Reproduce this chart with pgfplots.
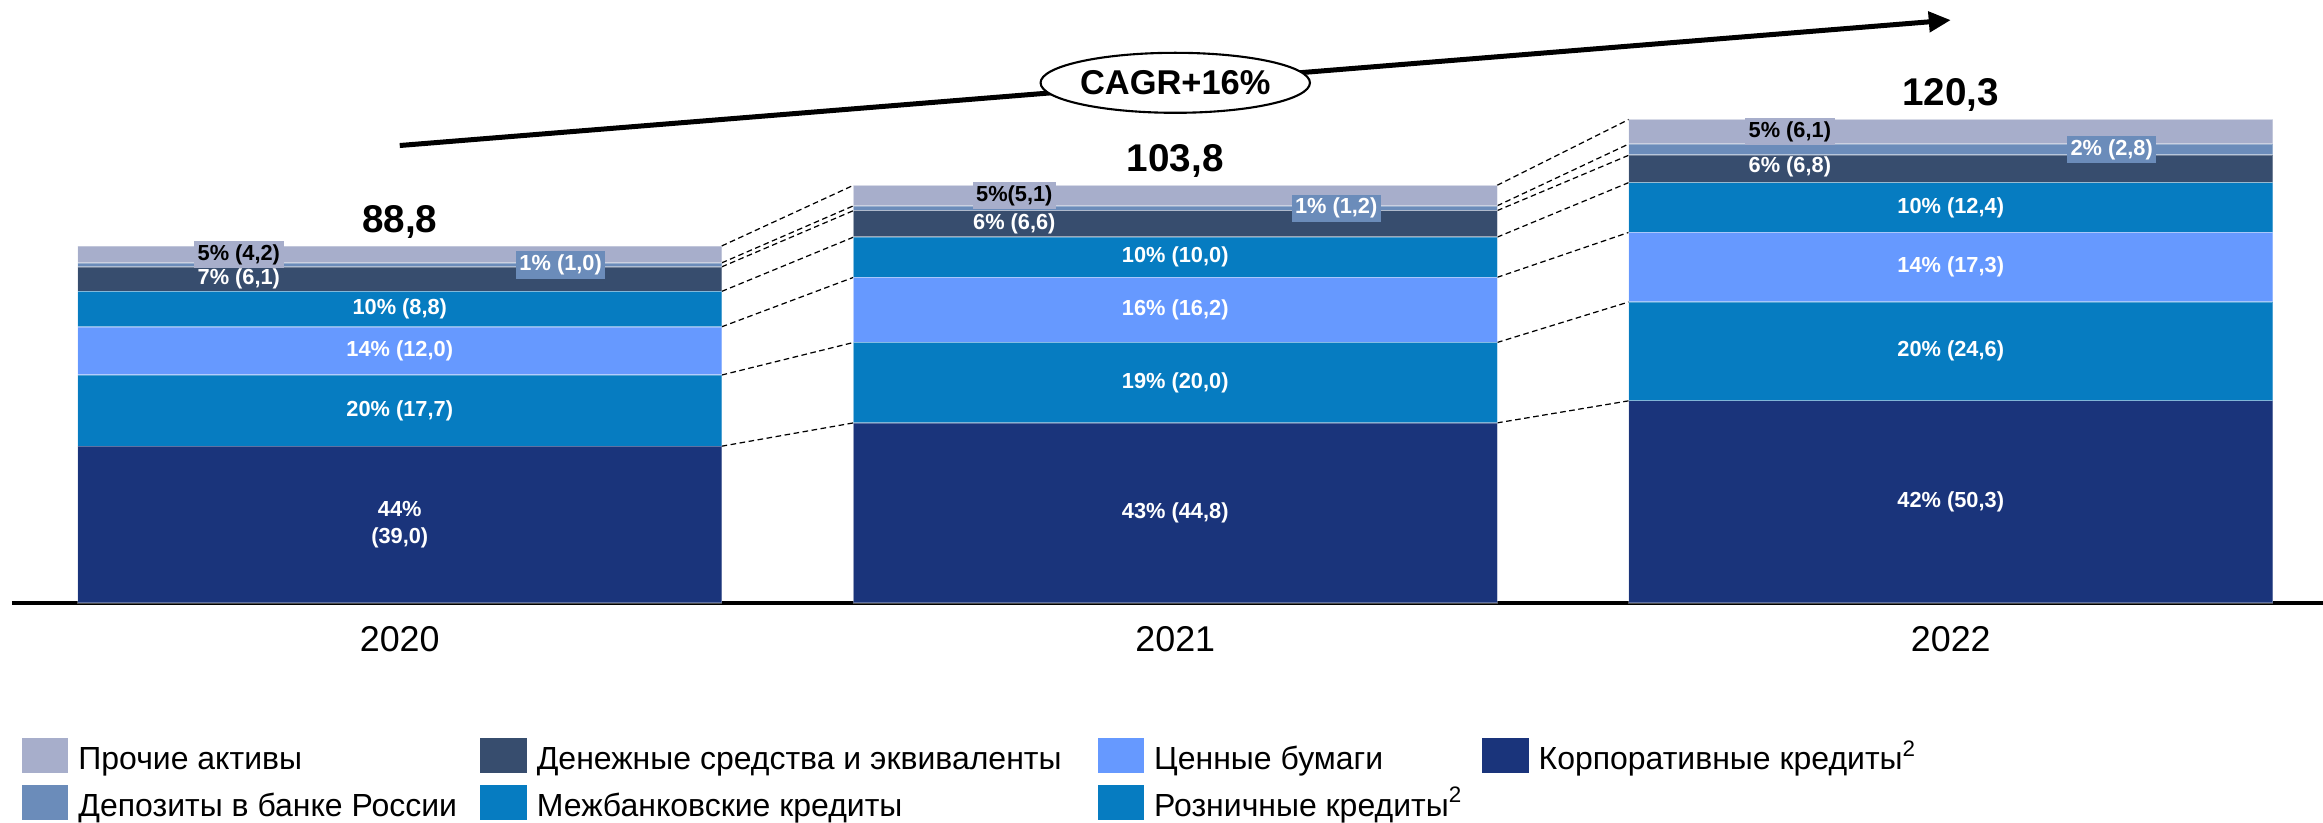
\documentclass[border=0pt]{standalone}
\usepackage{pgfplots}
\pgfplotsset{compat=1.18}
\usepackage{pgfplotstable}
\usepackage{fontspec}
\setmainfont{Liberation Sans}
\usetikzlibrary{shapes.geometric,arrows.meta}

\definecolor{cOther}{HTML}{A7AECB}
\definecolor{cDep}{HTML}{6B8CBA}
\definecolor{cCash}{HTML}{374D6E}
\definecolor{cInter}{HTML}{067CC1}
\definecolor{cSec}{HTML}{6699FF}
\definecolor{cRetail}{HTML}{067CC1}
\definecolor{cCorp}{HTML}{1A347B}

\pgfplotstableread{
x corp retail sec inter cash dep other
0 39.0 17.7 12.0 8.8 6.1 1.0 4.2
1 44.8 20.0 16.2 10.0 6.6 1.2 5.1
2 50.3 24.6 17.3 12.4 6.8 2.8 6.1
}\assets

\tikzset{
  lab/.style={font=\fontsize{6.2}{7.6}\selectfont\bfseries, text=white, inner sep=0.035cm, align=center},
  labk/.style={lab, text=black, fill=cOther},
  labd/.style={lab, fill=cDep},
  tot/.style={font=\fontsize{11}{12}\selectfont\bfseries, anchor=base, yshift=0.135cm},
  conn/.style={black, line width=0.35pt, dash pattern=on 1.6pt off 1pt},
}

\begin{document}
\begin{tikzpicture}
\useasboundingbox (-0.12,-2.20) rectangle (23.11,6.03);
\begin{axis}[
  scale only axis,
  width=23.11cm, height=6.03cm,
  xmin=-0.5, xmax=2.48,
  ymin=0, ymax=150,
  ybar stacked,
  bar width=6.44cm,
  axis x line*=bottom,
  axis y line=none,
  x axis line style={line width=0.04cm, -},
  xtick={0,1,2},
  xticklabels={2020,2021,2022},
  major tick length=0pt,
  ytick=\empty,
  xticklabel style={anchor=base, yshift=-0.49cm, font=\fontsize{10.2}{12}\selectfont},
  clip=false,
  legend columns=4,
  legend style={
    at={(0.00433,-0.2239)}, anchor=north west,
    draw=none, fill=none, inner sep=0pt, outer sep=0pt,
    column sep=0pt, row sep=0.08cm,
    font=\fontsize{9.1}{10}\selectfont,
    /tikz/every odd column/.append style={column sep=0.1cm},
    cells={anchor=base west},
    nodes={inner sep=0pt, text height=0.22cm, text depth=0.07cm},
  },
]
\addplot[fill=cCorp, draw=white, draw opacity=0.3, line width=0.4pt, forget plot] table[x=x, y=corp] {\assets};
\addplot[fill=cRetail, draw=white, draw opacity=0.3, line width=0.4pt, forget plot] table[x=x, y=retail] {\assets};
\addplot[fill=cSec, draw=white, draw opacity=0.3, line width=0.4pt, forget plot] table[x=x, y=sec] {\assets};
\addplot[fill=cInter, draw=white, draw opacity=0.3, line width=0.4pt, forget plot] table[x=x, y=inter] {\assets};
\addplot[fill=cCash, draw=white, draw opacity=0.3, line width=0.4pt, forget plot] table[x=x, y=cash] {\assets};
\addplot[fill=cDep, draw=white, draw opacity=0.3, line width=0.4pt, forget plot] table[x=x, y=dep] {\assets};
\addplot[fill=cOther, draw=white, draw opacity=0.3, line width=0.4pt, forget plot] table[x=x, y=other] {\assets};

% legend (row-wise, 4 columns)
\addlegendimage{legend image code/.code={\fill[cOther] (0cm,-0.03cm) rectangle (0.45cm,0.31cm);}}
\addlegendentry{\makebox[4.02cm][l]{Прочие активы}}
\addlegendimage{legend image code/.code={\fill[cCash] (0cm,-0.03cm) rectangle (0.45cm,0.31cm);}}
\addlegendentry{\makebox[5.61cm][l]{Денежные средства и эквиваленты}}
\addlegendimage{legend image code/.code={\fill[cSec] (0cm,-0.03cm) rectangle (0.45cm,0.31cm);}}
\addlegendentry{\makebox[3.28cm][l]{Ценные бумаги}}
\addlegendimage{legend image code/.code={\fill[cCorp] (0cm,-0.03cm) rectangle (0.45cm,0.31cm);}}
\addlegendentry{Корпоративные кредиты\textsuperscript{2}}
\addlegendimage{legend image code/.code={\fill[cDep] (0cm,-0.03cm) rectangle (0.45cm,0.31cm);}}
\addlegendentry{\makebox[4.02cm][l]{Депозиты в банке России}}
\addlegendimage{legend image code/.code={\fill[cInter] (0cm,-0.03cm) rectangle (0.45cm,0.31cm);}}
\addlegendentry{\makebox[5.61cm][l]{Межбанковские кредиты}}
\addlegendimage{legend image code/.code={\fill[cRetail] (0cm,-0.03cm) rectangle (0.45cm,0.31cm);}}
\addlegendentry{\makebox[3.28cm][l]{Розничные кредиты\textsuperscript{2}}}

% connectors 2020 -> 2021
\draw[conn] (axis cs:0.415,39.0) -- (axis cs:0.585,44.8);
\draw[conn] (axis cs:0.415,56.7) -- (axis cs:0.585,64.8);
\draw[conn] (axis cs:0.415,68.7) -- (axis cs:0.585,81.0);
\draw[conn] (axis cs:0.415,77.5) -- (axis cs:0.585,91.0);
\draw[conn] (axis cs:0.415,83.6) -- (axis cs:0.585,97.6);
\draw[conn] (axis cs:0.415,84.6) -- (axis cs:0.585,98.8);
\draw[conn] (axis cs:0.415,88.8) -- (axis cs:0.585,103.9);
% connectors 2021 -> 2022
\draw[conn] (axis cs:1.415,44.8) -- (axis cs:1.585,50.3);
\draw[conn] (axis cs:1.415,64.8) -- (axis cs:1.585,74.9);
\draw[conn] (axis cs:1.415,81.0) -- (axis cs:1.585,92.2);
\draw[conn] (axis cs:1.415,91.0) -- (axis cs:1.585,104.6);
\draw[conn] (axis cs:1.415,97.6) -- (axis cs:1.585,111.4);
\draw[conn] (axis cs:1.415,98.8) -- (axis cs:1.585,114.2);
\draw[conn] (axis cs:1.415,103.9) -- (axis cs:1.585,120.3);

% anchor points for annotations (drawn after the axis, on top)
\coordinate (a1) at (axis cs:0,19.5);
\coordinate (a2) at (axis cs:0,47.85);
\coordinate (a3) at (axis cs:0,62.7);
\coordinate (a4) at (axis cs:0,73.1);
\coordinate (a5) at (axis cs:-0.2075,80.55);
\coordinate (a6) at (axis cs:-0.2075,86.7);
\coordinate (a7) at (axis cs:0.2075,84.1);
\coordinate (b1) at (axis cs:1,22.4);
\coordinate (b2) at (axis cs:1,54.8);
\coordinate (b3) at (axis cs:1,72.9);
\coordinate (b4) at (axis cs:1,86.0);
\coordinate (b5) at (axis cs:0.7925,94.3);
\coordinate (b6) at (axis cs:0.7925,101.35);
\coordinate (b7) at (axis cs:1.2075,98.2);
\coordinate (c1) at (axis cs:2,25.15);
\coordinate (c2) at (axis cs:2,62.6);
\coordinate (c3) at (axis cs:2,83.55);
\coordinate (c4) at (axis cs:2,98.4);
\coordinate (c5) at (axis cs:1.7925,108.6);
\coordinate (c6) at (axis cs:1.7925,117.25);
\coordinate (c7) at (axis cs:2.2075,112.8);
\coordinate (t1) at (axis cs:0,88.8);
\coordinate (t2) at (axis cs:1,103.9);
\coordinate (t3) at (axis cs:2,120.3);
\coordinate (arA) at (axis cs:0,113.8);
\coordinate (arB) at (axis cs:2.0,145.0);
\coordinate (ell) at (axis cs:1.0,129.4);
\end{axis}

% segment labels 2020
\node[lab] at (a1) {44\%\\(39,0)};
\node[lab] at (a2) {20\% (17,7)};
\node[lab] at (a3) {14\% (12,0)};
\node[lab] at (a4) {10\% (8,8)};
\node[lab] at (a5) {7\% (6,1)};
\node[labk] at (a6) {5\% (4,2)};
\node[labd] at (a7) {1\% (1,0)};
% 2021
\node[lab] at (b1) {43\% (44,8)};
\node[lab] at (b2) {19\% (20,0)};
\node[lab] at (b3) {16\% (16,2)};
\node[lab] at (b4) {10\% (10,0)};
\node[lab] at (b5) {6\% (6,6)};
\node[labk] at (b6) {5\%(5,1)};
\node[labd] at (b7) {1\% (1,2)};
% 2022
\node[lab] at (c1) {42\% (50,3)};
\node[lab] at (c2) {20\% (24,6)};
\node[lab] at (c3) {14\% (17,3)};
\node[lab] at (c4) {10\% (12,4)};
\node[lab] at (c5) {6\% (6,8)};
\node[labk] at (c6) {5\% (6,1)};
\node[labd] at (c7) {2\% (2,8)};
% totals
\node[tot] at (t1) {88,8};
\node[tot] at (t2) {103,8};
\node[tot] at (t3) {120,3};
% CAGR arrow and ellipse
\draw[line width=0.05cm, -{Triangle[length=0.22cm,width=0.2cm]}] (arA) -- (arB);
\node[ellipse, draw, line width=0.6pt, fill=white, minimum width=2.58cm, minimum height=0.6cm, inner sep=0pt, font=\fontsize{9.8}{11}\selectfont\bfseries] at (ell) {CAGR+16\%};
\end{tikzpicture}
\end{document}
